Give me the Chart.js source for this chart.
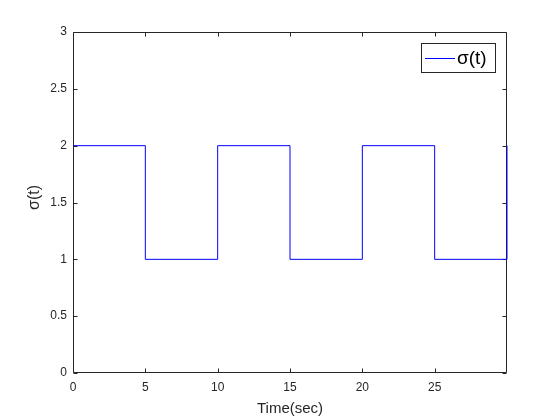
<!DOCTYPE html>
<html>
<head>
<meta charset="utf-8">
<script src="https://cdn.jsdelivr.net/npm/chart.js@4"></script>
<style>
html,body{margin:0;padding:0;background:#fff;}
#wrap{width:560px;height:420px;position:relative;}
</style>
</head>
<body>
<div id="wrap"><canvas id="c" width="560" height="420"></canvas></div>
<script>
// Data
const timeValues = [0, 5, 10, 15, 20, 25, 30];
const sigmaValues = [2, 1, 2, 1, 2, 1, 2];
const xTickValues = [0, 5, 10, 15, 20, 25];
const yTickValues = [0, 0.5, 1, 1.5, 2, 2.5, 3];
const seriesLabel = 'σ(t)';
const xTitle = 'Time(sec)';
const yTitle = 'σ(t)';

const AX = '#262626';
const FONT = '"Liberation Sans", Arial, Helvetica, sans-serif';

const points = timeValues.map((t, i) => ({x: t, y: sigmaValues[i]}));

const matlabAxes = {
  id: 'matlabAxes',
  beforeDatasetsDraw(chart) {
    const {ctx, chartArea: a, scales: {x, y}} = chart;
    ctx.save();
    ctx.strokeStyle = AX;
    ctx.lineWidth = 1;
    ctx.beginPath();
    const L = Math.round(a.left) + 0.5, R = Math.round(a.right) - 0.5;
    const T = Math.round(a.top) + 0.5, B = Math.round(a.bottom) - 0.5;
    ctx.rect(L, T, R - L, B - T);
    const tl = 4;
    xTickValues.forEach(v => {
      const px = Math.round(x.getPixelForValue(v)) + 0.5;
      ctx.moveTo(px, B); ctx.lineTo(px, B - tl);
      ctx.moveTo(px, T); ctx.lineTo(px, T + tl);
    });
    yTickValues.forEach(v => {
      const py = Math.round(y.getPixelForValue(v)) + 0.5;
      ctx.moveTo(L, py); ctx.lineTo(L + tl, py);
      ctx.moveTo(R, py); ctx.lineTo(R - tl, py);
    });
    ctx.stroke();
    // y-axis title
    ctx.fillStyle = AX;
    ctx.font = '16px ' + FONT;
    ctx.textAlign = 'center';
    ctx.textBaseline = 'middle';
    ctx.translate(35, 197.5);
    ctx.rotate(-Math.PI / 2);
    ctx.fillText(yTitle, 0, 0);
    ctx.restore();
  },
  afterDatasetsDraw(chart) {
    const {ctx} = chart;
    const ds = chart.data.datasets[0];
    ctx.save();
    const bx = 421.5, by = 43.5, bw = 74, bh = 29;
    ctx.fillStyle = '#fff';
    ctx.fillRect(bx, by, bw, bh);
    ctx.strokeStyle = AX;
    ctx.lineWidth = 1;
    ctx.strokeRect(bx, by, bw, bh);
    ctx.strokeStyle = ds.borderColor;
    ctx.beginPath();
    ctx.moveTo(425, 58.5); ctx.lineTo(455, 58.5);
    ctx.stroke();
    ctx.fillStyle = '#000';
    ctx.font = '19px ' + FONT;
    ctx.textBaseline = 'middle';
    ctx.textAlign = 'left';
    ctx.fillText(ds.label, 457, 59);
    ctx.restore();
  }
};

new Chart(document.getElementById('c'), {
  type: 'line',
  data: {
    datasets: [{
      label: seriesLabel,
      data: points,
      borderColor: '#0000ff',
      borderWidth: 1,
      pointRadius: 0,
      stepped: 'before',
      fill: false,
      clip: 3
    }]
  },
  options: {
    responsive: false,
    animation: false,
    devicePixelRatio: 1,
    layout: {padding: {top: 32, right: 53, left: 0, bottom: 0}},
    plugins: {legend: {display: false}, tooltip: {enabled: false}},
    scales: {
      x: {
        type: 'linear',
        min: 0, max: 30,
        afterFit(s) { s.height = 47; },
        afterBuildTicks(s) { s.ticks = xTickValues.map(v => ({value: v})); },
        grid: {display: false, drawTicks: false},
        border: {display: false},
        ticks: {color: AX, font: {family: FONT, size: 12}, padding: 7, maxRotation: 0,
                callback: v => String(v)},
        title: {display: true, text: xTitle, color: AX, font: {family: FONT, size: 15},
                padding: {top: 0, bottom: 2}}
      },
      y: {
        type: 'linear',
        min: 0, max: 3,
        afterFit(s) { s.width = 73; },
        afterBuildTicks(s) { s.ticks = yTickValues.map(v => ({value: v})); },
        grid: {display: false, drawTicks: false},
        border: {display: false},
        ticks: {color: AX, font: {family: FONT, size: 12}, padding: 6,
                callback: v => String(v)},
        title: {display: false}
      }
    }
  },
  plugins: [matlabAxes]
});
</script>
</body>
</html>
